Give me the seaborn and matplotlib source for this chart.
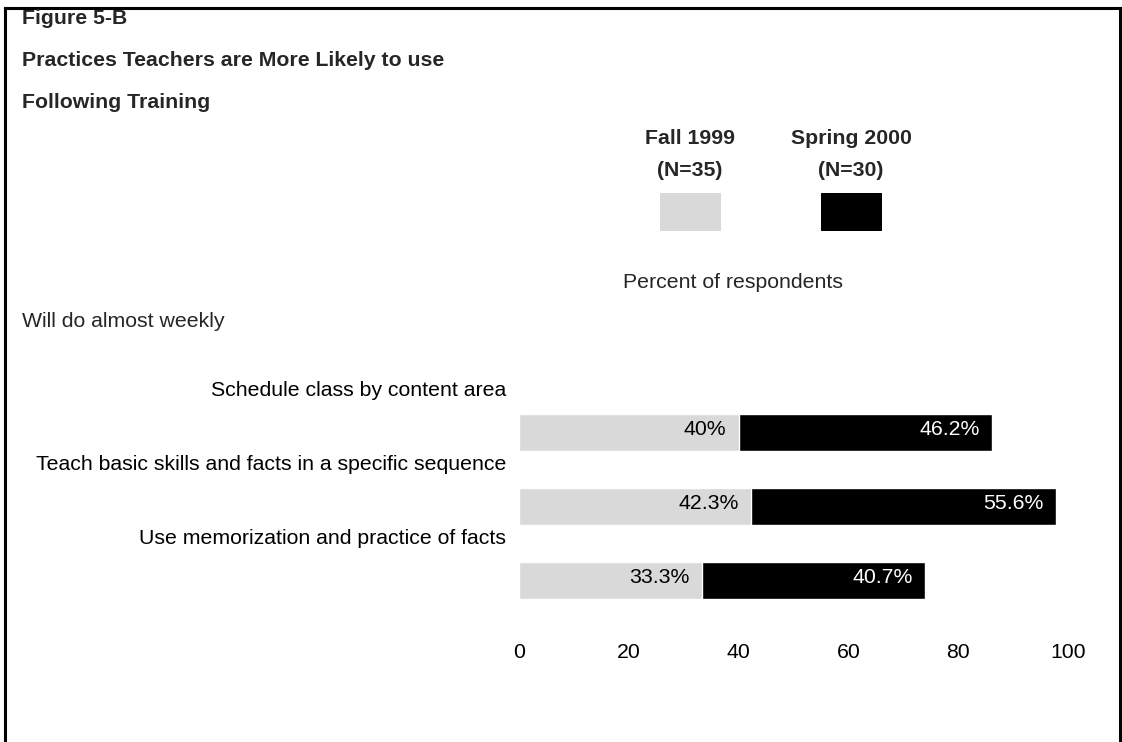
import matplotlib
matplotlib.use("Agg")
import matplotlib.pyplot as plt
import seaborn as sns
import pandas as pd
from matplotlib.patches import Rectangle
from matplotlib.lines import Line2D

# Data
practices = [
    "Schedule class by content area",
    "Teach basic skills and facts in a specific sequence",
    "Use memorization and practice of facts",
]
fall_1999 = [40.0, 42.3, 33.3]
spring_2000 = [46.2, 55.6, 40.7]
fall_labels = ["40%", "42.3%", "33.3%"]
spring_labels = ["46.2%", "55.6%", "40.7%"]
x_ticks = [0, 20, 40, 60, 80, 100]
series_names = ["Fall 1999", "Spring 2000"]
series_counts = ["(N=35)", "(N=30)"]
series_colors = ["#D9D9D9", "#000000"]

W, H = 1122, 742
sns.set_theme(style="white")
plt.rcParams["font.family"] = ["Liberation Sans", "DejaVu Sans"]

fig = plt.figure(figsize=(W / 100, H / 100), dpi=100)
fig.patch.set_facecolor("white")


def fx(px):
    return px / W


def fy(py):
    return 1 - py / H


FS = 15.3  # one text size throughout

# Page frame
frame_kw = dict(color="black", linewidth=2.2, solid_capstyle="projecting")
fig.add_artist(Line2D([fx(5), fx(5)], [fy(8), 0], **frame_kw))
fig.add_artist(Line2D([fx(5), fx(1120)], [fy(8), fy(8)], **frame_kw))
fig.add_artist(Line2D([fx(1120), fx(1120)], [fy(8), 0], **frame_kw))

# Titles
left = fx(22)
fig.text(left, fy(18), "Figure 5-B", fontsize=FS, fontweight="bold", ha="left", va="center")
fig.text(left, fy(61), "Practices Teachers are More Likely to use", fontsize=FS,
         fontweight="bold", ha="left", va="center")
fig.text(left, fy(103), "Following Training", fontsize=FS, fontweight="bold",
         ha="left", va="center")

# Legend block
legend_x = [690, 851]
for name, count, color, cx in zip(series_names, series_counts, series_colors, legend_x):
    fig.text(fx(cx), fy(139), name, fontsize=FS, fontweight="bold", ha="center", va="center")
    fig.text(fx(cx), fy(171), count, fontsize=FS, fontweight="bold", ha="center", va="center")
    fig.add_artist(Rectangle((fx(cx - 30), fy(231)), 61 / W, 38 / H, transform=fig.transFigure,
                             facecolor=color, edgecolor="none"))

fig.text(fx(733), fy(283), "Percent of respondents", fontsize=FS, ha="center", va="center")
fig.text(left, fy(321), "Will do almost weekly", fontsize=FS, ha="left", va="center")

# Stacked horizontal bars
ax = fig.add_axes([fx(519), fy(617), fx(1068) - fx(519), (617 - 395) / H])
df = pd.DataFrame({"practice": practices, "fall": fall_1999, "spring": spring_2000})
df["total"] = df["fall"] + df["spring"]

sns.barplot(data=df, y="practice", x="total", color=series_colors[1], orient="h",
            width=0.5, saturation=1, ax=ax)
sns.barplot(data=df, y="practice", x="fall", color=series_colors[0], orient="h",
            width=0.5, saturation=1, ax=ax)

ax.set_xlim(0, 100)
ax.set_ylim(2.5, -0.5)
ax.set_xlabel("")
ax.set_ylabel("")
ax.set_yticks([])
ax.set_xticks(x_ticks)
ax.set_xticklabels([str(t) for t in x_ticks])
ax.tick_params(axis="x", length=0, pad=19, labelsize=FS, labelcolor="black")
for s in ax.spines.values():
    s.set_visible(False)
ax.set_facecolor("none")

for i, row in df.iterrows():
    ax.annotate(fall_labels[i], xy=(row["fall"], i), xytext=(-9, 1.5), textcoords="offset points",
                ha="right", va="center", fontsize=FS, color="black")
    ax.annotate(spring_labels[i], xy=(row["total"], i), xytext=(-9, 1.5), textcoords="offset points",
                ha="right", va="center", fontsize=FS, color="white")
    ax.annotate(practices[i], xy=(0, i), xytext=(-9.4, 30.2), textcoords="offset points",
                ha="right", va="center", fontsize=FS, color="black", annotation_clip=False)

fig.savefig("out.png", dpi=100, facecolor="white")
